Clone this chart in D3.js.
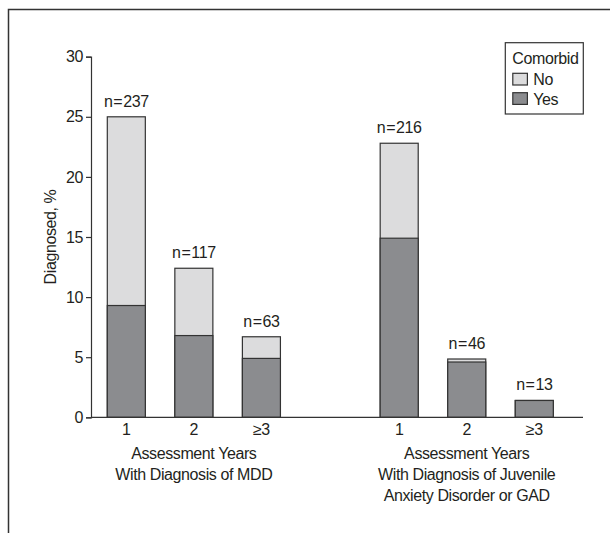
<!DOCTYPE html>
<html>
<head>
<meta charset="utf-8">
<script src="https://cdn.jsdelivr.net/npm/d3@7"></script>
<style>
  body { margin: 0; background: #fff; }
  text { font-family: 'Liberation Sans Narrow', 'Liberation Sans', Arial, sans-serif; font-stretch: condensed; fill: #231f20; letter-spacing: -0.4px; }
</style>
</head>
<body>
<div id="chart"></div>
<script>
// Chart values
var groups = ['MDD', 'Anxiety'];
var years = ['1', '2', '\u22653'];
var totalPct = [[25.0, 12.4, 6.7], [22.8, 4.85, 1.4]];
var comorbidYes = [[9.3, 6.8, 4.9], [14.9, 4.6, 1.4]];
var nValues = [[237, 117, 63], [216, 46, 13]];
var groupTitles = [
  ['Assessment Years', 'With Diagnosis of MDD'],
  ['Assessment Years', 'With Diagnosis of Juvenile', 'Anxiety Disorder or GAD']
];
var yTicks = [0, 5, 10, 15, 20, 25, 30];
var legendItems = ['No', 'Yes'];

var W = 610, H = 533;
var m = { left: 91, right: 583, top: 56.7, bottom: 417.3 };
var FONT = "'Liberation Sans Narrow', 'Liberation Sans', Arial, sans-serif";
var FS = '16px';

var svg = d3.select('#chart').append('svg')
  .attr('width', W)
  .attr('height', H);

// partial frame (left + top edges)
svg.append('path')
  .attr('d', 'M8.5,' + H + 'V9.5H' + W)
  .attr('fill', 'none')
  .attr('stroke', '#333')
  .attr('stroke-width', 1.5);

var y = d3.scaleLinear().domain([0, 30]).range([m.bottom, m.top]);

// outer scale for the two groups, inner for the years
var x0 = d3.scaleBand().domain(groups).range([107.3, 553.3]).paddingInner(0.3656);
var x1 = d3.scaleBand().domain(years).range([0, x0.bandwidth()]).paddingInner(0.437);

// flatten to bar records
var bars = [];
groups.forEach(function(g, gi) {
  years.forEach(function(yr, yi) {
    bars.push({ g: g, yr: yr, total: totalPct[gi][yi], yes: comorbidYes[gi][yi], n: nValues[gi][yi] });
  });
});

var colorNo = '#dcdcdd', colorYes = '#8b8c8f';

var barG = svg.append('g');
barG.selectAll('.bar-no').data(bars).enter().append('rect')
  .attr('class', 'bar-no')
  .attr('x', function(d) { return x0(d.g) + x1(d.yr); })
  .attr('y', function(d) { return y(d.total); })
  .attr('width', x1.bandwidth())
  .attr('height', function(d) { return y(0) - y(d.total); })
  .attr('fill', colorNo)
  .attr('stroke', '#333')
  .attr('stroke-width', 1.2);

barG.selectAll('.bar-yes').data(bars).enter().append('rect')
  .attr('class', 'bar-yes')
  .attr('x', function(d) { return x0(d.g) + x1(d.yr); })
  .attr('y', function(d) { return y(d.yes); })
  .attr('width', x1.bandwidth())
  .attr('height', function(d) { return y(0) - y(d.yes); })
  .attr('fill', colorYes)
  .attr('stroke', '#333')
  .attr('stroke-width', 1.2);

// n= labels
barG.selectAll('.nlab').data(bars).enter().append('text')
  .attr('class', 'nlab')
  .attr('x', function(d) { return x0(d.g) + x1(d.yr) + x1.bandwidth() / 2; })
  .attr('y', function(d) { return y(d.total) - 10; })
  .attr('text-anchor', 'middle')
  .style('font-size', FS)
  .text(function(d) { return 'n\u200A=\u200A' + d.n; });

// y axis
var yAxis = d3.axisLeft(y).tickValues(yTicks).tickSize(5).tickPadding(3);
var yg = svg.append('g').attr('transform', 'translate(' + m.left + ',0)').call(yAxis);
yg.select('.domain').attr('stroke', '#333').attr('stroke-width', 1.2);
yg.selectAll('.tick line').attr('stroke', '#333').attr('stroke-width', 1.2);
yg.selectAll('.tick text').style('font-size', FS).attr('fill', '#231f20')
  .style('font-family', FONT);

// x baseline
svg.append('line')
  .attr('x1', m.left).attr('x2', m.right)
  .attr('y1', y(0)).attr('y2', y(0))
  .attr('stroke', '#333').attr('stroke-width', 1.2);

// x labels per group
groups.forEach(function(g, gi) {
  var gg = svg.append('g').attr('transform', 'translate(' + x0(g) + ',' + y(0) + ')');
  var ax = d3.axisBottom(x1).tickSize(0).tickPadding(6);
  gg.call(ax);
  gg.select('.domain').remove();
  gg.selectAll('.tick text').style('font-size', FS).attr('fill', '#231f20')
    .style('font-family', FONT);

  svg.selectAll('.gt' + gi).data(groupTitles[gi]).enter().append('text')
    .attr('class', 'gt' + gi)
    .attr('x', x0(g) + x0.bandwidth() / 2)
    .attr('y', function(d, i) { return y(0) + 42 + i * 21; })
    .attr('text-anchor', 'middle')
    .style('font-size', FS)
    .text(function(d) { return d; });
});

// y title
svg.append('text')
  .attr('transform', 'translate(56,' + (m.top + m.bottom) / 2 + ') rotate(-90)')
  .attr('text-anchor', 'middle')
  .style('font-size', FS)
  .text('Diagnosed, %');

// legend
var lg = svg.append('g').attr('transform', 'translate(505.3,42.7)');
lg.append('rect')
  .attr('width', 78).attr('height', 71.3)
  .attr('fill', '#fff').attr('stroke', '#333').attr('stroke-width', 1.2);
lg.append('text').attr('x', 7).attr('y', 21).style('font-size', FS).text('Comorbid');
var li = lg.selectAll('.li').data(legendItems).enter().append('g')
  .attr('class', 'li')
  .attr('transform', function(d, i) { return 'translate(7.5,' + (30.6 + i * 19.4) + ')'; });
li.append('rect')
  .attr('width', 14.6).attr('height', 11.7)
  .attr('fill', function(d) { return d === 'No' ? colorNo : colorYes; })
  .attr('stroke', '#333').attr('stroke-width', 1.2);
li.append('text').attr('x', 20.5).attr('y', 12).style('font-size', FS).text(function(d) { return d; });
</script>
</body>
</html>
